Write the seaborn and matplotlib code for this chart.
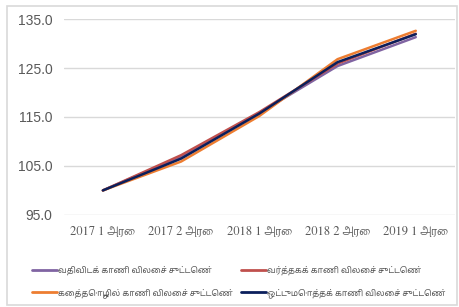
import matplotlib
matplotlib.use("Agg")
import matplotlib.pyplot as plt
import seaborn as sns
import pandas as pd

periods = ["2017 1 அரை", "2017 2 அரை", "2018 1 அரை", "2018 2 அரை", "2019 1 அரை"]
series_names = [
    "வதிவிடக் காணி விலைச் சுட்டெண்",
    "வர்த்தகக் காணி விலைச் சுட்டெண்",
    "கைத்தொழில் காணி விலைச் சுட்டெண்",
    "ஒட்டுமொத்தக் காணி விலைச் சுட்டெண்",
]
residential = [100.0, 106.9, 115.8, 125.4, 131.3]
commercial = [100.0, 107.2, 116.0, 125.9, 132.0]
industrial = [100.0, 105.9, 115.2, 126.8, 132.6]
overall = [100.0, 106.5, 115.7, 126.2, 131.9]
colors = ["#8064A2", "#C0504D", "#ED7D31", "#0B1F5C"]

rows = []
for name, vals in zip(series_names, [residential, commercial, industrial, overall]):
    for i, v in enumerate(vals):
        rows.append({"period": i, "value": v, "series": name})
df = pd.DataFrame(rows)

sns.set_theme(style="white")
plt.rcParams["font.family"] = ["FreeSerif", "Noto Serif Tamil", "DejaVu Sans"]

fig = plt.figure(figsize=(4.59, 3.07), dpi=100)
ax = fig.add_axes([0.139, 0.300, 0.852, 0.638])
sns.lineplot(data=df, x="period", y="value", hue="series", palette=colors,
             hue_order=series_names, linewidth=1.8, ax=ax, legend=False)

ax.set_ylim(95, 135)
ax.set_yticks([95, 105, 115, 125, 135])
ax.set_yticklabels([f"{t:.1f}" for t in [95, 105, 115, 125, 135]],
                   fontsize=10, color="#595959",
                   family=["Liberation Sans Narrow", "Liberation Sans", "DejaVu Sans"])
ax.set_xlim(-0.5, 4.5)
ax.set_xticks(range(len(periods)))
ax.set_xticklabels(periods, fontsize=9, color="#595959",
                   family=["FreeSerif", "Noto Serif Tamil", "DejaVu Sans"])
ax.set_xlabel("")
ax.set_ylabel("")
ax.grid(axis="y", color="#D9D9D9", linewidth=1)
ax.tick_params(axis="both", length=0, pad=8)
for s in ax.spines.values():
    s.set_visible(False)

# legend filled row by row: (res, com) / (ind, overall)
order = [0, 2, 1, 3]
handles = [plt.Line2D([], [], color=colors[i], linewidth=2) for i in order]
labels = [series_names[i] for i in order]
fig.legend(handles, labels, loc="lower center", bbox_to_anchor=(0.52, 0.005),
           ncol=2, frameon=False, handlelength=3.0, handletextpad=0.15,
           columnspacing=1.0, labelspacing=1.55, labelcolor="#595959",
           prop={"family": ["Noto Sans Tamil", "FreeSans", "DejaVu Sans"], "size": 6.0})

border = plt.Rectangle((0.015, 0.005), 0.98, 0.975, transform=fig.transFigure,
                       fill=False, edgecolor="#D9D9D9", linewidth=1.2)
fig.patches.append(border)

fig.savefig("out.png", dpi=100)
